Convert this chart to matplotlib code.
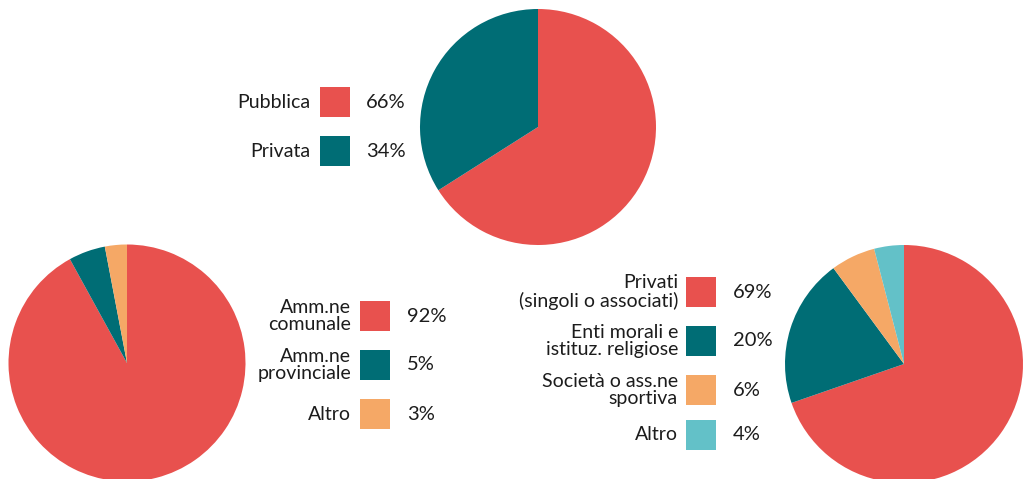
import matplotlib.pyplot as plt
from matplotlib.patches import Rectangle

plt.rcParams['font.family'] = ['Lato', 'DejaVu Sans']

# dati
top_labels = ['Pubblica', 'Privata']
top_values = [66, 34]

left_labels = ['Amm.ne\ncomunale', 'Amm.ne\nprovinciale', 'Altro']
left_values = [92, 5, 3]

right_labels = ['Privati\n(singoli o associati)', 'Enti morali e\nistituz. religiose',
                'Società o ass.ne\nsportiva', 'Altro']
right_values = [69, 20, 6, 4]

RED = '#E8514E'
TEAL = '#006D75'
ORANGE = '#F5A866'
CYAN = '#63C1C8'
TXT = '#1c1c1c'

W, H = 1025, 479
fig = plt.figure(figsize=(W / 100, H / 100), dpi=100)
ax = fig.add_axes([0, 0, 1, 1])


def Y(y):
    # coordinate in pixel dall'alto
    return H - y


def torta(values, colors, cx, cy, r):
    ax.pie(values, colors=colors, startangle=90, counterclock=False,
           center=(cx, Y(cy)), radius=r, frame=True,
           wedgeprops=dict(linewidth=0, antialiased=True))


def legenda(labels, values, colors, sq_x, sq_ys, txt_right, pct_left, sq=30):
    for lab, v, c, y in zip(labels, values, colors, sq_ys):
        ax.add_patch(Rectangle((sq_x, Y(y + sq)), sq, sq, facecolor=c, edgecolor='none'))
        ax.text(txt_right, Y(y + sq / 2), lab, ha='right', va='center',
                multialignment='right', fontsize=14, color=TXT, linespacing=1.0)
        ax.text(pct_left, Y(y + sq / 2), f'{v}%', ha='left', va='center',
                fontsize=14.5, color=TXT)


torta(top_values, [RED, TEAL], 538, 127, 118)
legenda(top_labels, top_values, [RED, TEAL], 320, [87, 136], 310, 366)

torta(left_values, [RED, TEAL, ORANGE], 127, 363, 118.5)
legenda(left_labels, left_values, [RED, TEAL, ORANGE], 360, [301, 350, 399], 351, 407)

torta(right_values, [RED, TEAL, ORANGE, CYAN], 904, 364, 119)
legenda(right_labels, right_values, [RED, TEAL, ORANGE, CYAN], 686,
        [277, 326, 375, 420], 678, 733)

ax.set_xlim(0, W)
ax.set_ylim(0, H)
ax.set_aspect('equal')
ax.axis('off')

plt.savefig('out.png', dpi=100)
